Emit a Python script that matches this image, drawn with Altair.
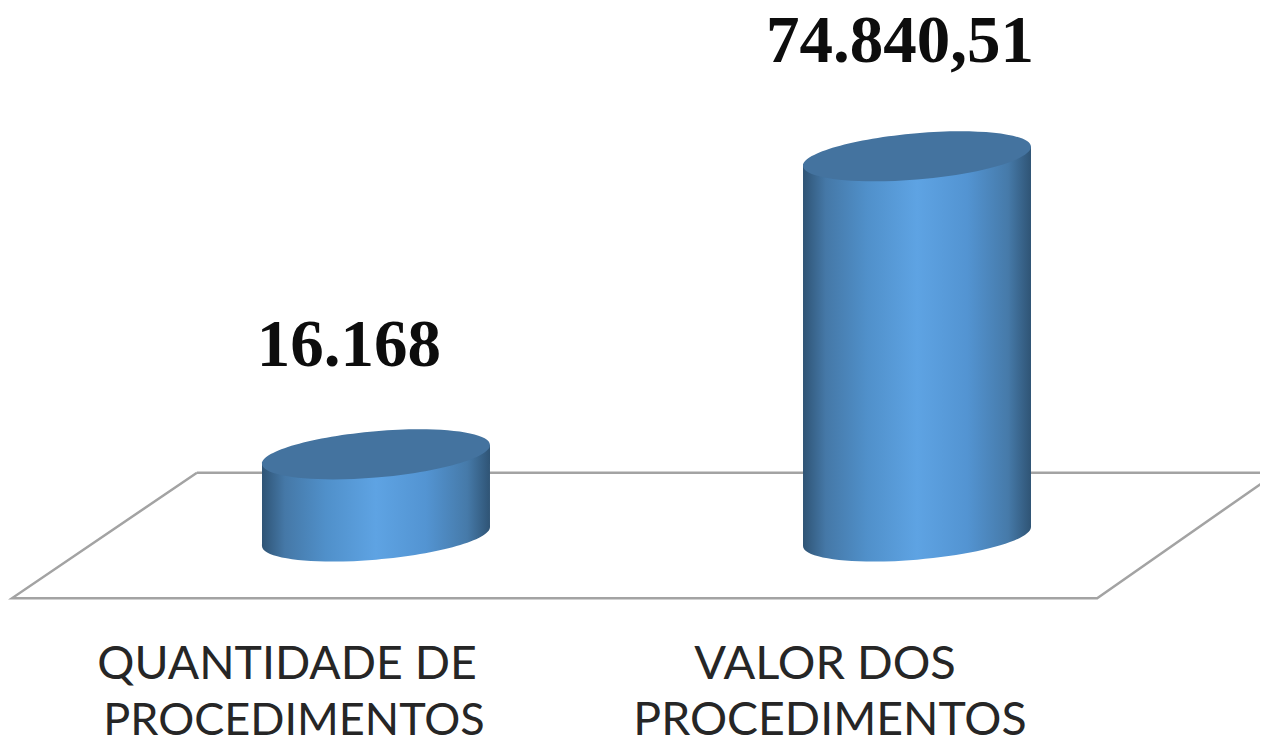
import altair as alt
import pandas as pd

categories = ["QUANTIDADE DE PROCEDIMENTOS", "VALOR DOS PROCEDIMENTOS"]
positions = [1, 2]
values = [16168, 74840.51]
value_labels = ["16.168", "74.840,51"]
label_dx = [-27, -17]
label_dy = [-108, -114]
category_lines = [
    ("QUANTIDADE DE", 1, -89, 129, 46.4),
    ("PROCEDIMENTOS", 1, -82, 185, 45),
    ("VALOR DOS", 2, -92, 129, 47),
    ("PROCEDIMENTOS", 2, -87, 185, 46.4),
]
floor_x = [0.669, 2.665, 2.333, 0.327, 0.669]
floor_y = [12559, 12559, -12166, -12166, 12559]

HALF_WIDTH = 0.2107   # half a cylinder, in x units
TILT = 1864           # rise of the ellipse end, in value units
DIAMETER = 228

x_scale = alt.Scale(domain=[0.3198, 2.634], nice=False, zero=False)
y_scale = alt.Scale(domain=[-40256, 103445], nice=False, zero=False)

body_gradient = alt.Gradient(
    gradient="linear", x1=0, x2=1, y1=0, y2=0,
    stops=[
        alt.GradientStop(offset=0, color="#2f5475"),
        alt.GradientStop(offset=0.1, color="#4578a7"),
        alt.GradientStop(offset=0.28, color="#5090ca"),
        alt.GradientStop(offset=0.5, color="#5ea3e3"),
        alt.GradientStop(offset=0.72, color="#5394d2"),
        alt.GradientStop(offset=0.9, color="#467aa9"),
        alt.GradientStop(offset=1, color="#2f5475"),
    ],
)
ELLIPSE = ("M1,-0.083 C1,0.029 0.552,0.157 0,0.203 C-0.552,0.249 -1,0.195 -1,0.083 "
           "C-1,-0.029 -0.552,-0.157 0,-0.203 C0.552,-0.249 1,-0.195 1,-0.083 Z")

X = alt.X("x:Q", scale=x_scale, axis=None)
Y = alt.Y("y:Q", scale=y_scale, axis=None)

floor_df = pd.DataFrame({"x": floor_x, "y": floor_y, "i": range(len(floor_x))})
floor = alt.Chart(floor_df).mark_line(color="#a3a3a3", strokeWidth=2.5, clip=True).encode(
    x=X, y=Y, order="i:O")

top_df = pd.DataFrame({"x": positions, "y": values, "zero": [0, 0], "cat": categories})

bottoms = alt.Chart(top_df).mark_point(
    shape=ELLIPSE, filled=True, fill=body_gradient, size=DIAMETER ** 2, opacity=1, strokeWidth=0
).encode(x=X, y=alt.Y("zero:Q", scale=y_scale, axis=None))

rows = []
for pos, val, cat in zip(positions, values, categories):
    rows.append({"x": pos - HALF_WIDTH, "y": val - TILT, "y2": -TILT, "cat": cat})
    rows.append({"x": pos + HALF_WIDTH, "y": val + TILT, "y2": TILT, "cat": cat})
bodies = alt.Chart(pd.DataFrame(rows)).mark_area(fill=body_gradient, opacity=1).encode(
    x=X, y=Y, y2="y2:Q", detail="cat:N")

tops = alt.Chart(top_df).mark_point(
    shape=ELLIPSE, filled=True, fill="#44739f", size=DIAMETER ** 2, opacity=1, strokeWidth=0
).encode(x=X, y=Y)

layers = [floor, bottoms, bodies, tops]

for pos, val, text, dx, dy in zip(positions, values, value_labels, label_dx, label_dy):
    layers.append(
        alt.Chart(pd.DataFrame({"x": [pos], "y": [val], "t": [text]})).mark_text(
            font="Liberation Serif", fontWeight="bold", fontSize=67, color="#0d0d0d",
            align="center", baseline="middle", dx=dx, dy=dy
        ).encode(x=X, y=Y, text="t:N")
    )

for text, pos, dx, dy, fs in category_lines:
    layers.append(
        alt.Chart(pd.DataFrame({"x": [pos], "y": [0], "t": [text]})).mark_text(
            font="Lato", fontSize=fs, color="#262626",
            align="center", baseline="middle", dx=dx, dy=dy
        ).encode(x=X, y=Y, text="t:N")
    )

chart = alt.layer(*layers).properties(
    width=1252, height=730, padding=0, background="white"
).configure_view(stroke=None)

chart.save("out.html", embed_options={"renderer": "svg", "actions": False})
